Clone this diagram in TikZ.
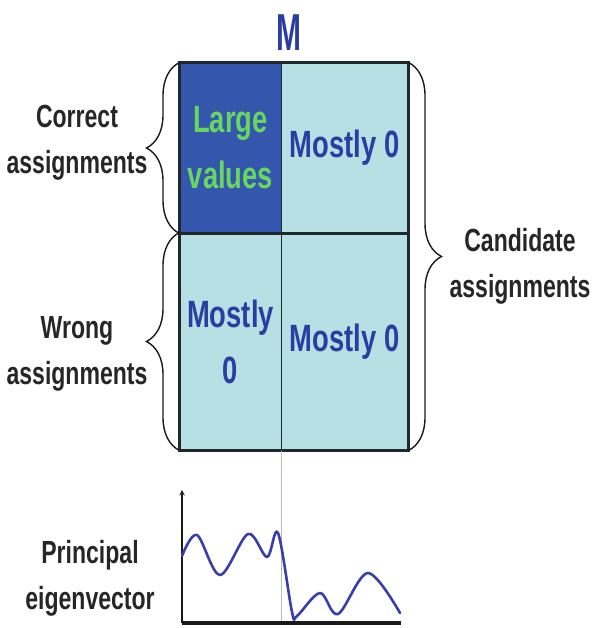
\documentclass[tikz,border=0pt]{standalone}
\usepackage{fontspec}
\setmainfont{Liberation Sans}[FakeStretch=0.72]
\usepackage{tikz}
\usetikzlibrary{positioning,arrows,calc,decorations.pathreplacing}

\definecolor{cellDark}{RGB}{52,86,172}
\definecolor{cellLight}{RGB}{182,224,228}
\definecolor{inkBlue}{RGB}{42,62,162}
\definecolor{inkGreen}{RGB}{104,214,96}
\definecolor{waveBlue}{RGB}{58,62,170}
\definecolor{frameInk}{RGB}{30,40,45}

\begin{document}
\begin{tikzpicture}[x=1pt,y=-1pt,
  cell/.style={rectangle,draw=frameInk,line width=1pt,fill=#1,inner sep=0pt,align=center,
    font=\fontsize{38}{56}\selectfont\bfseries,text=inkBlue},
  frame/.style={draw=frameInk,line width=2.2pt},
  brace/.style={decorate,decoration={brace,amplitude=33pt},line width=1.4pt,black!90},
  side/.style={font=\fontsize{32}{46}\selectfont\bfseries,text=black!85,align=center,inner sep=0pt},
  wave/.style={waveBlue,line width=2.6pt,line cap=round,line join=round},
]
\useasboundingbox (0,0) rectangle (592,628);

% === Matrix M: four blocks ===
\node[cell=cellDark,minimum width=101pt,minimum height=170pt,text=inkGreen] (large) at (230.5,148) {Large\\values};
\node[cell=cellLight,minimum width=127pt,minimum height=170pt] (topzero) at (344.5,148) {Mostly 0};
\node[cell=cellLight,minimum width=101pt,minimum height=217pt] (leftzero) at (230.5,341.5) {Mostly\\0};
\node[cell=cellLight,minimum width=127pt,minimum height=217pt] (restzero) at (344.5,341.5) {Mostly 0};

\draw[frame] (large.north west) rectangle (restzero.south east);
\draw[frame] (large.south west) -- (topzero.south east);

% === Title ===
\node[font=\fontsize{52}{52}\selectfont\bfseries,text=inkBlue,inner sep=0pt] (title) at (289,33) {\scalebox{0.8}[1]{M}};

% === Braces and their labels ===
\draw[brace] (large.south west) -- (large.north west);
\draw[brace] (leftzero.south west) -- (leftzero.north west);
\draw[brace] (topzero.north east) -- (restzero.south east);

\node[side] (correct) at (77,143) {Correct\\assignments};
\node[side] (wrong) at (77,354) {Wrong\\assignments};
\node[side] (candidate) at (520,266) {Candidate\\assignments};

% === Principal eigenvector plot ===
\coordinate (origin) at (182,623);
\coordinate (ytop) at (182,490);
\coordinate (xend) at (401,623);

\draw[gray!55,line width=0.8pt] (leftzero.south east) -- (leftzero.south east |- origin);
\draw[->,>=stealth,line width=1.4pt,black!90] (origin) -- (ytop);
\draw[line width=3.4pt,black!90] (origin) -- (xend);

\draw[wave] plot[smooth,tension=0.55] coordinates {
  (182,556) (197,535) (220,575) (248,534) (267,557) (278,533)
  (292,612) (297,616) (320,593) (338,614) (368,573) (400,613)};

\node[side] (eigen) at (90,578) {Principal\\eigenvector};

\end{tikzpicture}
\end{document}
